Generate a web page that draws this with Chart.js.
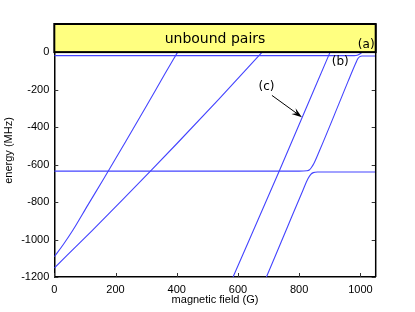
<!DOCTYPE html>
<html><head><meta charset="utf-8">
<script src="https://cdn.jsdelivr.net/npm/chart.js@4/dist/chart.umd.min.js"></script>
<style>html,body{margin:0;padding:0;background:#fff}#wrap{width:415px;height:312px}</style>
</head><body><div id="wrap"><canvas id="c" width="415" height="312"></canvas></div>
<script>
// ---- data (magnetic field in G, energy in MHz) ----
const xTicks = [0, 200, 400, 600, 800, 1000];
const yTicks = [-1200, -1000, -800, -600, -400, -200, 0];

// steep line starting at -1092 MHz
const fieldA  = [0, 30, 60, 110, 160, 230, 300, 360, 403];
const energyA = [-1092, -1025, -952, -815, -680, -486, -290, -120, 0];

// shallower line starting at -1152 MHz
const fieldB  = [0, 122, 225, 318, 400, 537, 679];
const energyB = [-1152, -955, -785, -629, -489, -252, 0];

// (a): shallow bound level near threshold
const fieldTop  = [0, 500, 980, 990, 998, 1006];
const energyTop = [-19, -19, -19, -17, -10, 0];

// (b): level at -635 MHz, bends up, joins threshold level
const fieldMid  = [0, 400, 800, 825, 834, 840, 848, 867, 929, 960, 985, 992, 998, 1005, 1050];
const energyMid = [-635, -635, -635, -633, -628, -616, -595, -524, -279, -155, -58, -34, -24, -21, -21];

// lower branch of the avoided crossing near 840 G
const fieldLow  = [693, 760, 812, 829, 838, 846, 860, 950, 1050];
const energyLow = [-1200, -940, -738, -675, -652, -643, -640, -640, -640];

// (c): straight steep line
const fieldC  = [584, 736, 901];
const energyC = [-1200, -630, 0];

const toPts = (xs, ys) => xs.map((v, i) => ({x: v, y: ys[i]}));
const BLUE = 'rgb(68,68,255)';
const mk = (xs, ys) => ({
  data: toPts(xs, ys), showLine: true, borderColor: BLUE, borderWidth: 1.1,
  pointRadius: 0, cubicInterpolationMode: 'monotone', fill: false
});

const overlay = {
  id: 'overlay',
  afterDatasetsDraw(chart) {
    const {ctx, chartArea: a, scales: {x, y}} = chart;
    ctx.save();
    // inward ticks
    ctx.strokeStyle = '#333'; ctx.lineWidth = 1;
    yTicks.forEach(v => {
      const p = Math.round(y.getPixelForValue(v)) + 0.5;
      ctx.beginPath(); ctx.moveTo(a.left, p); ctx.lineTo(a.left + 4, p);
      ctx.moveTo(a.right, p); ctx.lineTo(a.right - 4, p); ctx.stroke();
    });
    xTicks.forEach(v => {
      const p = Math.round(x.getPixelForValue(v)) + 0.5;
      ctx.beginPath(); ctx.moveTo(p, a.bottom); ctx.lineTo(p, a.bottom - 4); ctx.stroke();
    });
    // right frame
    ctx.strokeStyle = '#000'; ctx.lineWidth = 1.5;
    ctx.beginPath(); ctx.moveTo(a.right, a.top); ctx.lineTo(a.right, a.bottom); ctx.stroke();
    // unbound pairs box
    const y0 = y.getPixelForValue(0);
    ctx.fillStyle = '#ffff80';
    ctx.fillRect(a.left, a.top, a.right - a.left, y0 - a.top);
    ctx.lineWidth = 2; ctx.strokeStyle = '#000';
    ctx.strokeRect(a.left, a.top, a.right - a.left, y0 - a.top);
    ctx.fillStyle = '#000';
    ctx.font = '14px "DejaVu Sans"';
    ctx.textAlign = 'center'; ctx.textBaseline = 'middle';
    ctx.fillText('unbound pairs', (a.left + a.right) / 2, (a.top + y0) / 2 + 1);
    // labels
    ctx.font = '12px "DejaVu Sans"';
    ctx.fillText('(a)', x.getPixelForValue(1019), y.getPixelForValue(36));
    ctx.fillText('(b)', x.getPixelForValue(934), y.getPixelForValue(-53));
    ctx.fillText('(c)', x.getPixelForValue(693), y.getPixelForValue(-183));
    // arrow
    const x1 = x.getPixelForValue(711), y1 = y.getPixelForValue(-231);
    const x2 = x.getPixelForValue(809), y2 = y.getPixelForValue(-347);
    const ang = Math.atan2(y2 - y1, x2 - x1);
    ctx.lineWidth = 1; ctx.strokeStyle = '#000';
    ctx.beginPath(); ctx.moveTo(x1, y1); ctx.lineTo(x2 - 6 * Math.cos(ang), y2 - 6 * Math.sin(ang)); ctx.stroke();
    const L = 11, W = 0.33;
    ctx.beginPath();
    ctx.moveTo(x2, y2);
    ctx.lineTo(x2 - L * Math.cos(ang - W), y2 - L * Math.sin(ang - W));
    ctx.lineTo(x2 - 0.6 * L * Math.cos(ang), y2 - 0.6 * L * Math.sin(ang));
    ctx.lineTo(x2 - L * Math.cos(ang + W), y2 - L * Math.sin(ang + W));
    ctx.closePath(); ctx.fill();
    ctx.restore();
  }
};

const tickFont = {family: '"Liberation Sans", Arial, sans-serif', size: 11};

new Chart(document.getElementById('c'), {
  type: 'scatter',
  data: {datasets: [
    mk(fieldA, energyA), mk(fieldB, energyB), mk(fieldTop, energyTop),
    mk(fieldMid, energyMid), mk(fieldLow, energyLow), mk(fieldC, energyC)
  ]},
  options: {
    responsive: false, animation: false, devicePixelRatio: 1,
    layout: {padding: {left: 0, top: 24, right: 39.3, bottom: 0}},
    plugins: {legend: {display: false}, tooltip: {enabled: false}},
    scales: {
      x: {
        type: 'linear', min: 0, max: 1050,
        afterBuildTicks: s => { s.ticks = xTicks.map(v => ({value: v})); },
        afterFit: s => { s.height = 35; },
        grid: {display: false, drawTicks: false},
        border: {display: true, color: '#000', width: 1.5},
        ticks: {font: tickFont, color: '#000', padding: 6, maxRotation: 0, callback: v => String(v)},
        title: {display: true, text: 'magnetic field (G)', font: tickFont, color: '#000', padding: {top: 0, bottom: 5}}
      },
      y: {
        type: 'linear', min: -1200, max: 150,
        afterBuildTicks: s => { s.ticks = yTicks.map(v => ({value: v})); },
        afterFit: s => { s.width = 54.3; },
        grid: {display: false, drawTicks: false},
        border: {display: true, color: '#000', width: 1.5},
        ticks: {font: tickFont, color: '#000', padding: 5, callback: v => String(v)},
        title: {display: true, text: 'energy (MHz)', font: tickFont, color: '#000', padding: {top: 2, bottom: 0}}
      }
    }
  },
  plugins: [overlay]
});
</script>
</body></html>
